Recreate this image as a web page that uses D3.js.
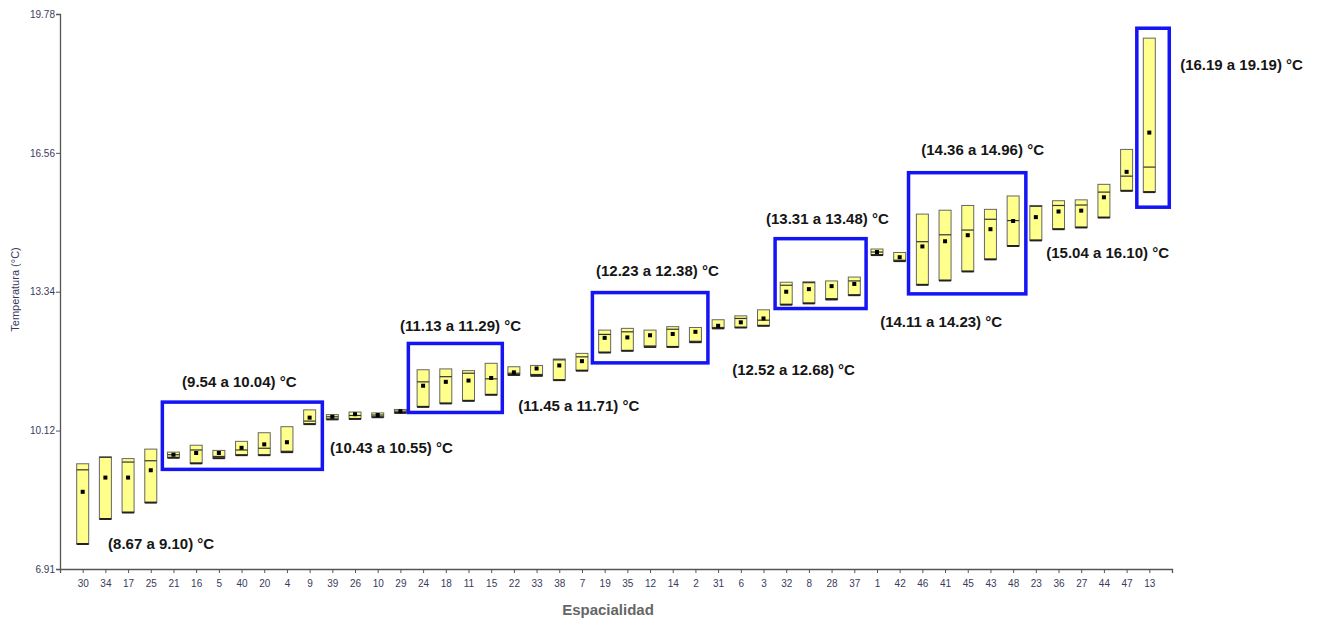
<!DOCTYPE html>
<html>
<head>
<meta charset="utf-8">
<script src="https://cdn.jsdelivr.net/npm/d3@7"></script>
<style>
  html, body { margin: 0; padding: 0; background: #fff; }
  svg { display: block; }
</style>
</head>
<body>
<svg id="chart" width="1320" height="622"></svg>
<script>
// ---- data ----
const categories = ["30","34","17","25","21","16","5","40","20","4","9","39","26","10","29","24","18","11","15","22","33","38","7","19","35","12","14","2","31","6","3","32","8","28","37","1","42","46","41","45","43","48","23","36","27","44","47","13"];
const q3Values = [9.35,9.51,9.47,9.69,9.62,9.78,9.66,9.87,10.07,10.21,10.60,10.49,10.55,10.53,10.61,11.53,11.55,11.51,11.68,11.60,11.63,11.78,11.91,12.45,12.49,12.45,12.53,12.51,12.69,12.78,12.92,13.56,13.57,13.59,13.68,14.33,14.25,15.14,15.23,15.34,15.25,15.56,15.34,15.45,15.47,15.83,16.64,19.22];
const q1Values = [7.49,8.07,8.22,8.45,9.49,9.36,9.48,9.55,9.55,9.62,10.27,10.38,10.39,10.43,10.53,10.67,10.75,10.81,10.95,11.41,11.39,11.29,11.51,11.93,11.97,12.06,12.06,12.17,12.49,12.51,12.55,13.04,13.07,13.16,13.26,14.19,14.05,13.50,13.60,13.81,14.09,14.40,14.53,14.79,14.83,15.06,15.68,15.65];
const medianValues = [9.21,9.50,9.39,9.42,9.56,9.67,9.52,9.67,9.71,9.64,10.34,10.44,10.47,10.48,10.57,11.25,11.37,11.45,11.32,11.45,11.42,11.76,11.83,12.35,12.41,12.08,12.47,12.19,12.51,12.72,12.68,13.49,13.55,13.18,13.59,14.26,14.07,14.50,14.66,14.77,15.02,14.99,15.32,15.34,15.35,15.65,16.02,16.23];
const meanValues = [8.70,9.03,9.03,9.20,9.56,9.60,9.60,9.72,9.80,9.85,10.42,10.44,10.50,10.48,10.57,11.16,11.25,11.28,11.34,11.47,11.56,11.63,11.73,12.27,12.28,12.33,12.36,12.41,12.55,12.63,12.72,13.34,13.40,13.47,13.52,14.26,14.14,14.39,14.51,14.65,14.79,14.98,15.07,15.20,15.22,15.53,16.12,17.03];
const yTickValues = [6.91, 10.12, 13.34, 16.56, 19.78];

// highlight boxes (x in category-position units, y in °C)
const highlightX0 = [4.51, 15.35, 23.46, 31.51, 37.39, 47.45];
const highlightX1 = [11.56, 19.49, 28.55, 35.52, 42.56, 48.88];
const highlightYTop = [10.78, 12.14, 13.32, 14.57, 16.10, 19.45];
const highlightYBottom = [9.22, 10.54, 11.69, 12.95, 13.29, 15.30];

// range labels
const labelTexts = ["(8.67 a 9.10) °C","(9.54 a 10.04) °C","(10.43 a 10.55) °C","(11.13 a 11.29) °C","(11.45 a 11.71) °C","(12.23 a 12.38) °C","(12.52 a 12.68) °C","(13.31 a 13.48) °C","(14.11 a 14.23) °C","(14.36 a 14.96) °C","(15.04 a 16.10) °C","(16.19 a 19.19) °C"];
const labelX = [2.12, 5.38, 11.90, 14.98, 20.19, 23.62, 29.62, 31.11, 36.14, 37.95, 43.46, 49.36];
const labelY = [7.49, 11.25, 9.72, 12.55, 10.69, 13.84, 11.53, 15.03, 12.66, 16.63, 14.24, 18.62];

// ---- layout ----
const svg = d3.select("#chart");
const plotLeft = 60, plotRight = 1172, plotTop = 14, plotBottom = 569;

const x = d3.scaleLinear().domain([0, categories.length + 1]).range([plotLeft, plotRight]);
const y = d3.scaleLinear().domain([6.91, 19.78]).range([plotBottom, plotTop]);
const boxW = 12;

const data = categories.map((c, i) => ({
  cat: c, pos: i + 1, q1: q1Values[i], q3: q3Values[i], med: medianValues[i], mean: meanValues[i]
}));

// ---- axes ----
const axisColor = "#555";
const tickTextColor = "#3a3a5c";

const yAxis = svg.append("g")
  .attr("transform", `translate(${plotLeft},0)`)
  .call(d3.axisLeft(y).tickValues(yTickValues).tickFormat(d3.format(".2f")).tickSizeOuter(0).tickSize(4));
yAxis.select(".domain").attr("stroke", axisColor).attr("stroke-width", 1.3);
yAxis.selectAll(".tick line").attr("stroke", axisColor);
yAxis.selectAll(".tick text")
  .attr("font-family", "Liberation Sans, Arial, sans-serif")
  .attr("font-size", 10).attr("fill", tickTextColor).attr("x", -5);

const xAxis = svg.append("g")
  .attr("transform", `translate(0,${plotBottom})`)
  .call(d3.axisBottom(x)
    .tickValues(data.map(d => d.pos).concat([categories.length + 1]))
    .tickFormat(v => (v >= 1 && v <= categories.length) ? categories[v - 1] : "")
    .tickSizeOuter(0).tickSize(4));
xAxis.select(".domain").attr("stroke", axisColor).attr("stroke-width", 1.3);
xAxis.selectAll(".tick line").attr("stroke", axisColor);
xAxis.selectAll(".tick text")
  .attr("font-family", "Liberation Sans, Arial, sans-serif")
  .attr("font-size", 10).attr("fill", tickTextColor).attr("dy", "1.1em");

svg.append("text")
  .attr("transform", `translate(19,${(plotTop + plotBottom) / 2 - 2}) rotate(-90)`)
  .attr("text-anchor", "middle")
  .attr("font-family", "Liberation Sans, Arial, sans-serif")
  .attr("font-size", 11).attr("fill", tickTextColor)
  .text("Temperatura (°C)");

svg.append("text")
  .attr("x", 608).attr("y", 615)
  .attr("text-anchor", "middle")
  .attr("font-family", "Liberation Sans, Arial, sans-serif")
  .attr("font-size", 15).attr("font-weight", "bold").attr("fill", "#666")
  .text("Espacialidad");

// ---- boxes ----
const boxes = svg.append("g").selectAll("g.box").data(data).join("g").attr("class", "box");
boxes.append("rect")
  .attr("x", d => x(d.pos) - boxW / 2)
  .attr("y", d => y(d.q3))
  .attr("width", boxW)
  .attr("height", d => y(d.q1) - y(d.q3))
  .attr("fill", "#ffff8c")
  .attr("stroke", "#666")
  .attr("stroke-width", 1);
boxes.append("line")
  .attr("x1", d => x(d.pos) - boxW / 2).attr("x2", d => x(d.pos) + boxW / 2)
  .attr("y1", d => y(d.q1)).attr("y2", d => y(d.q1))
  .attr("stroke", "#222").attr("stroke-width", 2);
boxes.append("line")
  .attr("x1", d => x(d.pos) - boxW / 2).attr("x2", d => x(d.pos) + boxW / 2)
  .attr("y1", d => y(d.med)).attr("y2", d => y(d.med))
  .attr("stroke", "#333").attr("stroke-width", 1.2);
boxes.append("rect")
  .attr("x", d => x(d.pos) - 2)
  .attr("y", d => y(d.mean) - 2)
  .attr("width", 4).attr("height", 4)
  .attr("fill", "#000");

// ---- highlight rectangles ----
svg.append("g").selectAll("rect").data(highlightX0).join("rect")
  .attr("x", (d, i) => x(highlightX0[i]))
  .attr("y", (d, i) => y(highlightYTop[i]))
  .attr("width", (d, i) => x(highlightX1[i]) - x(highlightX0[i]))
  .attr("height", (d, i) => y(highlightYBottom[i]) - y(highlightYTop[i]))
  .attr("fill", "none")
  .attr("stroke", "#1414f5")
  .attr("stroke-width", 3.5);

// ---- labels ----
svg.append("g").selectAll("text").data(labelTexts).join("text")
  .attr("x", (d, i) => x(labelX[i]))
  .attr("y", (d, i) => y(labelY[i]))
  .attr("dominant-baseline", "central")
  .attr("font-family", "Liberation Sans, Arial, sans-serif")
  .attr("font-size", 15).attr("font-weight", "bold").attr("fill", "#161616")
  .text(d => d);
</script>
</body>
</html>
